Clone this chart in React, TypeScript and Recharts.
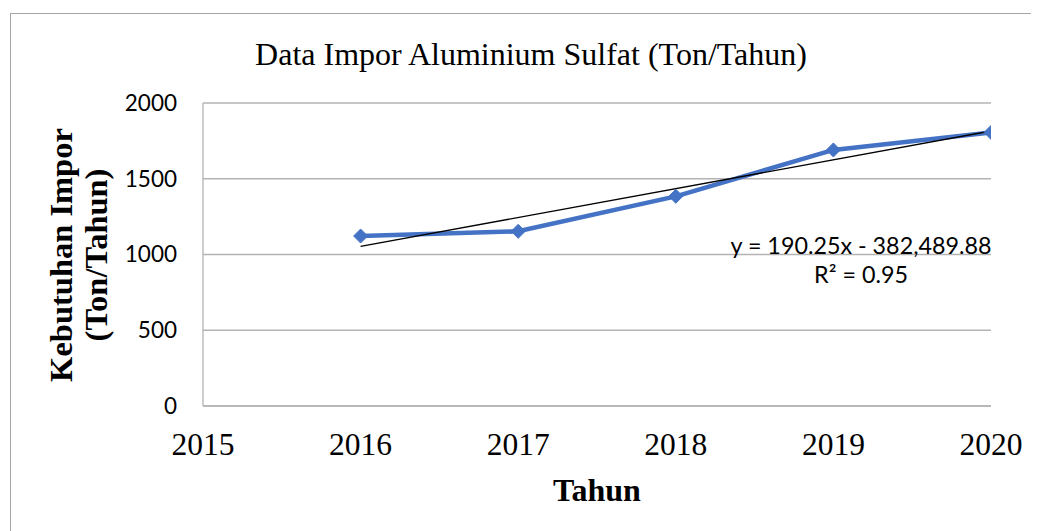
import React from "react";
import { ComposedChart, Line, XAxis, YAxis, CartesianGrid } from "recharts";

const years = [2016, 2017, 2018, 2019, 2020];
const imports = [1122, 1153, 1384, 1690, 1806];
const xTicks = [2015, 2016, 2017, 2018, 2019, 2020];
const yTicks = [0, 500, 1000, 1500, 2000];
const trendSlope = 190.25;
const trendIntercept = -382489.88;
const trendYears = [2016, 2020];

const title = "Data Impor Aluminium Sulfat (Ton/Tahun)";
const xTitle = "Tahun";
const yTitleLines = ["Kebutuhan Impor", "(Ton/Tahun)"];
const equationText = "y = 190.25x - 382,489.88";
const r2Text = "R² = 0.95";

const data = years.map((y, i) => ({ year: y, value: imports[i] }));
const trendData = trendYears.map((y) => ({ year: y, trend: trendSlope * y + trendIntercept }));

const Diamond = (props: any) => {
  const { cx, cy } = props;
  if (cx == null || cy == null) return null;
  const r = 7;
  return (
    <polygon
      points={`${cx},${cy - r} ${cx + r},${cy} ${cx},${cy + r} ${cx - r},${cy}`}
      fill="#4472C4"
      stroke="#4472C4"
    />
  );
};

export default function App() {
  const W = 1031;
  const H = 523;
  return (
    <div style={{ position: "relative", width: W, height: H, overflow: "hidden", background: "#fff" }}>
      <div
        style={{
          position: "absolute",
          left: 2,
          top: 5,
          width: 1100,
          height: 600,
          border: "1px solid #a6a6a6",
          boxSizing: "border-box",
        }}
      />
      <div style={{ position: "absolute", left: 0, top: 0 }}>
        <ComposedChart
          width={W}
          height={H}
          margin={{ top: 95, right: 48, bottom: 65, left: 115 }}
        >
          <CartesianGrid vertical={false} stroke="#b3b3b3" strokeWidth={1.3} />
          <XAxis
            dataKey="year"
            type="number"
            domain={[2015, 2020]}
            ticks={xTicks}
            allowDataOverflow
            height={60}
            tickLine={false}
            tickSize={0}
            tickMargin={27}
            axisLine={{ stroke: "#b3b3b3", strokeWidth: 1.3 }}
            tick={{ fill: "#000", fontFamily: "'Liberation Serif', 'Times New Roman', serif", fontSize: 31.5 }}
          />
          <YAxis
            type="number"
            domain={[0, 2000]}
            ticks={yTicks}
            width={80}
            tickLine={false}
            tickSize={0}
            tickMargin={26}
            axisLine={{ stroke: "#b3b3b3", strokeWidth: 1.3 }}
            tick={{ fill: "#000", fontFamily: "Lato, 'Open Sans', sans-serif", fontSize: 22.5 }}
          />
          <Line
            data={data}
            dataKey="value"
            type="linear"
            stroke="#4472C4"
            strokeWidth={4.5}
            dot={<Diamond />}
            activeDot={false}
            isAnimationActive={false}
          />
          <Line
            data={trendData}
            dataKey="trend"
            type="linear"
            stroke="#000"
            strokeWidth={1.3}
            dot={false}
            activeDot={false}
            isAnimationActive={false}
          />
        </ComposedChart>
      </div>
      <div
        style={{
          position: "absolute",
          left: 223,
          top: 26,
          width: 600,
          textAlign: "center",
          fontFamily: "'Liberation Serif', 'Times New Roman', serif",
          fontSize: 32,
          lineHeight: "40px",
          color: "#000",
          whiteSpace: "nowrap",
        }}
      >
        {title}
      </div>
      <div
        style={{
          position: "absolute",
          left: 688,
          top: 223,
          width: 330,
          textAlign: "center",
          fontFamily: "Lato, 'Open Sans', sans-serif",
          fontSize: 23.3,
          lineHeight: "29px",
          color: "#000",
          whiteSpace: "nowrap",
        }}
      >
        <div>{equationText}</div>
        <div>{r2Text}</div>
      </div>
      <div
        style={{
          position: "absolute",
          left: 489,
          top: 462,
          width: 200,
          textAlign: "center",
          fontFamily: "'Liberation Serif', 'Times New Roman', serif",
          fontWeight: "bold",
          fontSize: 32,
          lineHeight: "40px",
          color: "#000",
        }}
      >
        {xTitle}
      </div>
      <div
        style={{
          position: "absolute",
          left: 72 - 175,
          top: 247 - 36,
          width: 350,
          height: 72,
          transform: "rotate(-90deg)",
          transformOrigin: "50% 50%",
          textAlign: "center",
          fontFamily: "'Liberation Serif', 'Times New Roman', serif",
          fontWeight: "bold",
          fontSize: 32.5,
          lineHeight: "35px",
          color: "#000",
          whiteSpace: "nowrap",
        }}
      >
        {yTitleLines.map((t) => (
          <div key={t}>{t}</div>
        ))}
      </div>
    </div>
  );
}
